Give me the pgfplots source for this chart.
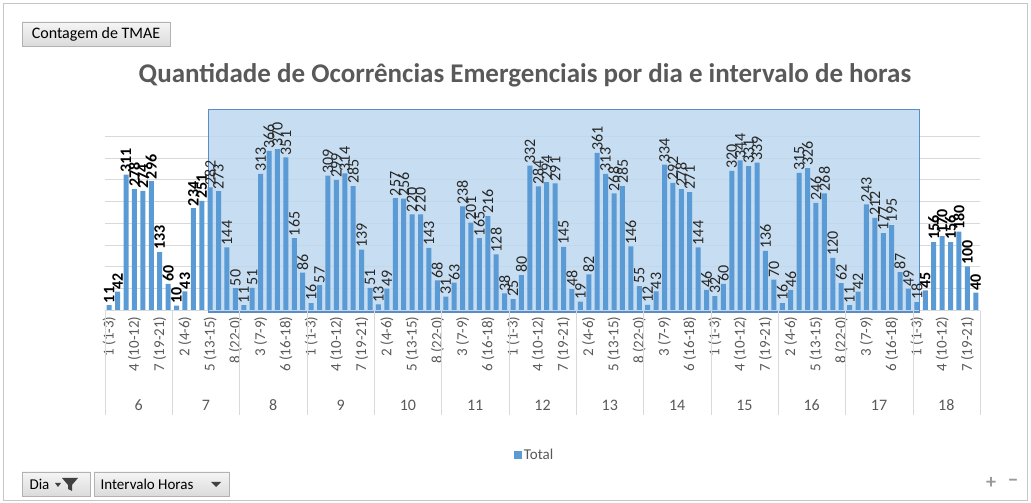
\documentclass[border=0pt]{standalone}
\usepackage{fontspec}
\setmainfont{Carlito}
\usepackage{pgfplots}
\pgfplotsset{compat=1.18}
\pgfplotsset{/pgf/number format/assume math mode=true}
\definecolor{barblue}{HTML}{5B9BD5}
\definecolor{txtgray}{HTML}{595959}
\definecolor{gridgray}{HTML}{D9D9D9}
\definecolor{selfill}{HTML}{BDD7EE}
\definecolor{selborder}{HTML}{5B8CC8}
\begin{document}
\begin{tikzpicture}[x=1pt,y=1pt]
\path[use as bounding box] (0,0) rectangle (1031,503);
\draw[gray!45] (3,3) rectangle (1027,500);
% pivot field button top
\draw[gray!60, top color=gray!8, bottom color=gray!28] (22,457) rectangle (170,481);
\node[font=\fontsize{16}{16}\selectfont, text=black] at (96,469) {Contagem de TMAE};
% title
\node[font=\fontsize{27}{27}\selectfont\bfseries, text=txtgray] at (525,428) {Quantidade de Ocorrências Emergenciais por dia e intervalo de horas};
\begin{axis}[
  at={(105pt,193pt)}, anchor=south west,
  scale only axis, width=875pt, height=174pt,
  xmin=-0.5, xmax=103.5, ymin=0, ymax=400,
  clip=false,
  ybar, bar width=5pt,
  axis lines*=left,
  y axis line style={draw=none},
  x axis line style={draw=gridgray},
  ytick={0,50,...,400}, yticklabels={}, ytick style={draw=none},
  ymajorgrids, grid style={gridgray},
  xtick={0,3,...,102}, xtick style={draw=none},
  xticklabels={{1 (1-3)},{4 (10-12)},{7 (19-21)},{2 (4-6)},{5 (13-15)},{8 (22-0)},{3 (7-9)},{6 (16-18)},
               {1 (1-3)},{4 (10-12)},{7 (19-21)},{2 (4-6)},{5 (13-15)},{8 (22-0)},{3 (7-9)},{6 (16-18)},
               {1 (1-3)},{4 (10-12)},{7 (19-21)},{2 (4-6)},{5 (13-15)},{8 (22-0)},{3 (7-9)},{6 (16-18)},
               {1 (1-3)},{4 (10-12)},{7 (19-21)},{2 (4-6)},{5 (13-15)},{8 (22-0)},{3 (7-9)},{6 (16-18)},
               {1 (1-3)},{4 (10-12)},{7 (19-21)}},
  xticklabel style={rotate=90, anchor=east, font=\fontsize{15}{15}\selectfont, text=txtgray, inner sep=2pt},
  nodes near coords,
  every node near coord/.append style={rotate=90, anchor=west, font=\fontsize{16}{16}\selectfont, text=black!85, inner sep=2pt},
  legend style={draw=none, at={(0.491,-0.833)}, anchor=center, font=\fontsize{15}{15}\selectfont, text=txtgray},
]
\fill[selfill, fill opacity=0.85] (axis cs:11.76,-4.6) rectangle (axis cs:96.3,460);
\draw[selborder, line width=1.2pt] (axis cs:11.76,-4.6) rectangle (axis cs:96.3,460);
\addplot[fill=barblue, draw=none, bar shift=0pt,
  every node near coord/.append style={font=\fontsize{16}{16}\selectfont\bfseries, text=black},
  legend image code/.code={\fill[barblue] (0pt,-4pt) rectangle (8pt,4pt);}]
coordinates {(0,11)(1,42)(2,311)(3,278)(4,274)(5,296)(6,133)(7,60)(8,10)(9,43)(10,234)(11,251)
(97,45)(98,156)(99,170)(100,156)(101,180)(102,100)(103,40)};
\addlegendentry{Total}
\addplot[fill=barblue, draw=none, bar shift=0pt, forget plot]
coordinates {(12,282)(13,273)(14,144)(15,50)(16,11)(17,51)(18,313)(19,366)(20,370)(21,351)(22,165)(23,86)
(24,16)(25,57)(26,309)(27,299)(28,314)(29,285)(30,139)(31,51)(32,13)(33,49)(34,257)(35,256)(36,220)(37,220)(38,143)(39,68)
(40,31)(41,63)(42,238)(43,201)(44,165)(45,216)(46,128)(47,38)(48,25)(49,80)(50,332)(51,284)(52,294)(53,291)(54,145)(55,48)
(56,19)(57,82)(58,361)(59,313)(60,268)(61,285)(62,146)(63,55)(64,12)(65,43)(66,334)(67,292)(68,278)(69,271)(70,144)(71,46)
(72,32)(73,60)(74,320)(75,344)(76,331)(77,339)(78,136)(79,70)(80,16)(81,46)(82,315)(83,326)(84,246)(85,268)(86,120)(87,62)
(88,11)(89,42)(90,243)(91,212)(92,177)(93,195)(94,87)(95,49)(96,18)};
\pgfplotsinvokeforeach{0,...,13}{\draw[gridgray] ([yshift=-1pt]axis cs:{8*#1-0.5},0) -- ([yshift=-105pt]axis cs:{8*#1-0.5},0);}
\pgfplotsinvokeforeach{6,...,18}{\node[font=\fontsize{16}{16}\selectfont, text=txtgray] at ([yshift=-95pt]axis cs:{8*(#1-6)+3.5},0) {#1};}
\end{axis}
% bottom buttons
\draw[gray!60, top color=gray!8, bottom color=gray!28] (22,7) rectangle (90,31);
\node[anchor=west, font=\fontsize{15}{15}\selectfont] at (26,19) {Dia};
\fill[black!75] (62,25) -- (78,25) -- (72,18) -- (72,12) -- (68,14) -- (68,18) -- cycle;
\fill[black!75] (55,20) -- (61,20) -- (58,16) -- cycle;
\draw[gray!60, top color=gray!8, bottom color=gray!28] (94,7) rectangle (229,31);
\node[anchor=west, font=\fontsize{15}{15}\selectfont] at (97,19) {Intervalo Horas};
\fill[black!75] (211,21) -- (221,21) -- (216,16) -- cycle;
\node[font=\fontsize{20}{20}\selectfont\bfseries, text=gray!80] at (991,20) {+};
\node[font=\fontsize{20}{20}\selectfont\bfseries, text=gray!80] at (1013,20) {−};
\end{tikzpicture}
\end{document}
